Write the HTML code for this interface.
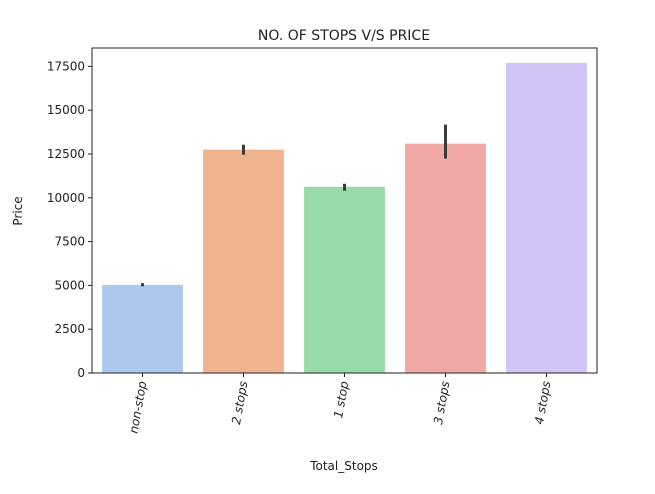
<!DOCTYPE html>
<html><head><meta charset="utf-8"><style>
body{margin:0;background:#fff;}
svg text{font-family:"DejaVu Sans","Liberation Sans",sans-serif;fill:#222;}
</style></head><body>
<svg id="chart" width="655" height="489" viewBox="0 0 655 489">
<text x="344" y="40" text-anchor="middle" font-size="14">NO. OF STOPS V/S PRICE</text>
<g id="plot"></g>
<text x="22" y="211" text-anchor="middle" font-size="12" transform="rotate(-90 22 211)">Price</text>
<text x="344" y="470" text-anchor="middle" font-size="12">Total_Stops</text>
</svg>
<script>
const categories=["non-stop","2 stops","1 stop","3 stops","4 stops"];
const values=[5030,12750,10630,13090,17700];
const errLow=[4950,12460,10400,12240,17700];
const errHigh=[5130,13030,10800,14180,17700];
const yTicks=[0,2500,5000,7500,10000,12500,15000,17500];
const colors=["#abc9ec","#efb48e","#97dba8","#f2a9a6","#d2c4f7"];
const L=92,R=597,T=48,B=373,yMax=18550;
const ns="http://www.w3.org/2000/svg";
const g=document.getElementById('plot');
function y(v){return B-(v/yMax)*(B-T);}
const band=(R-L)/categories.length;
function x(i){return L+band*i+band/2;}
function mk(t,a){const e=document.createElementNS(ns,t);for(const k in a)e.setAttribute(k,a[k]);g.appendChild(e);return e;}
categories.forEach((c,i)=>{
 const r=mk('rect',{x:x(i)-band*0.4,y:y(values[i]),width:band*0.8,height:B-y(values[i]),fill:colors[i]});
 
 
 if(errHigh[i]>errLow[i]){
 const l=mk('line',{x1:x(i),x2:x(i),y1:y(errLow[i]),y2:y(errHigh[i]),stroke:'#3c3c3c','stroke-width':3});
 
 }
 mk('line',{x1:x(i),x2:x(i),y1:B,y2:B+4,stroke:'#222'});
 const t=mk('text',{x:0,y:0,'font-size':12,'text-anchor':'end','font-style':'italic',transform:`translate(${x(i)+4},${B+9}) rotate(-80)`});
 t.textContent=c;
 
 
});
yTicks.forEach(v=>{
 mk('line',{x1:L-4,x2:L,y1:y(v),y2:y(v),stroke:'#222'});
 const t=mk('text',{x:L-7,y:y(v)+4,'font-size':12,'text-anchor':'end'});
 t.textContent=v;
 
 
});
const f=mk('rect',{x:L,y:T,width:R-L,height:B-T,fill:'none',stroke:'#222','stroke-width':1});


</script>
</body></html>
